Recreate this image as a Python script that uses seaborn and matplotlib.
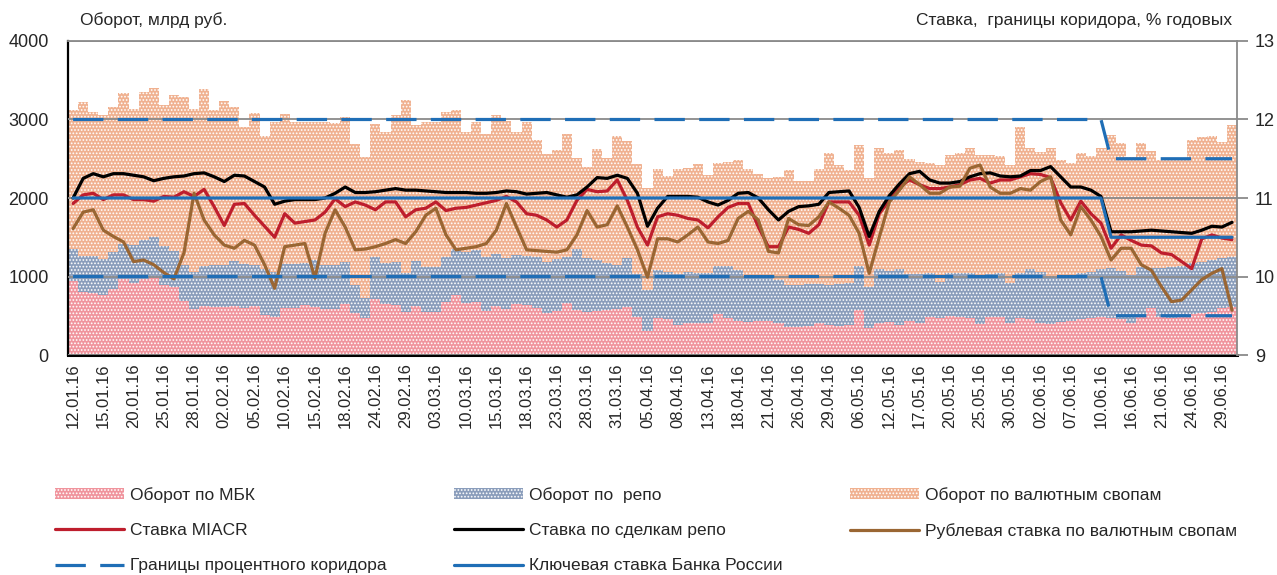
import numpy as np
import pandas as pd
import seaborn as sns
import matplotlib.pyplot as plt
from matplotlib.patches import Patch
from matplotlib.lines import Line2D

# рабочие дни 12.01.16 - 30.06.16 (праздники РФ, рабочая суббота 20.02)
holidays = ["2016-02-22", "2016-02-23", "2016-03-07", "2016-03-08",
            "2016-05-02", "2016-05-03", "2016-05-09", "2016-06-13"]
days = pd.bdate_range("2016-01-12", "2016-06-30", freq="C", holidays=holidays)
days = days.append(pd.DatetimeIndex(["2016-02-20"])).sort_values()
dates = [d.strftime("%d.%m.%y") for d in days]

# обороты, млрд руб.
mbk = [943, 807, 794, 764, 845, 972, 921, 964, 990, 892,
       862, 688, 586, 628, 611, 607, 624, 599, 624, 514,
       480, 603, 603, 637, 611, 582, 590, 654, 531, 467,
       709, 650, 637, 550, 620, 545, 552, 679, 764, 658,
       679, 565, 624, 582, 650, 637, 595, 531, 565, 658,
       573, 552, 565, 573, 582, 607, 488, 310, 475, 455,
       382, 403, 403, 412, 520, 467, 437, 425, 437, 433,
       412, 361, 361, 369, 403, 382, 375, 382, 573, 340,
       412, 425, 382, 437, 412, 480, 467, 501, 480, 467,
       395, 480, 488, 403, 467, 454, 412, 395, 425, 437,
       454, 467, 488, 467, 454, 412, 497, 595, 488, 467,
       488, 522, 531, 552, 595, 607]
repo = [403, 458, 467, 455, 471, 438, 480, 501, 509, 501,
        467, 459, 475, 506, 531, 535, 574, 556, 518, 577,
        581, 556, 556, 531, 595, 565, 552, 535, 361, 263,
        544, 518, 548, 490, 578, 575, 573, 574, 582, 658,
        659, 688, 663, 650, 624, 624, 658, 658, 654, 595,
        773, 680, 645, 595, 565, 633, 544, 518, 608, 605,
        648, 657, 647, 637, 614, 667, 646, 575, 558, 544,
        544, 531, 531, 541, 502, 513, 525, 531, 561, 530,
        679, 649, 709, 595, 620, 569, 467, 539, 569, 573,
        611, 552, 552, 510, 582, 637, 645, 611, 573, 578,
        586, 590, 603, 637, 620, 603, 628, 515, 622, 658,
        652, 646, 658, 658, 636, 637]
swaps = [1775, 1962, 1835, 1839, 1839, 1923, 1733, 1886, 1903, 1796,
         1983, 2136, 2077, 2251, 1979, 2094, 1966, 1754, 1937, 1703,
         1903, 1907, 1810, 1805, 1763, 1822, 1818, 1847, 1796, 1796,
         1685, 1673, 1873, 2209, 1732, 1852, 1847, 1847, 1775, 1529,
         1634, 1562, 1768, 1753, 1571, 1711, 1486, 1372, 1393, 1563,
         1160, 1163, 1410, 1342, 1639, 1486, 1397, 1295, 1282, 1220,
         1335, 1318, 1383, 1244, 1308, 1320, 1401, 1365, 1307, 1274,
         1316, 1465, 1325, 1311, 1460, 1674, 1525, 1444, 1541, 1381,
         1551, 1495, 1521, 1461, 1423, 1393, 1487, 1508, 1520, 1593,
         1542, 1512, 1500, 1508, 1860, 1542, 1533, 1627, 1486, 1427,
         1529, 1478, 1542, 1699, 1623, 1512, 1580, 1493, 1374, 1355,
         1353, 1571, 1584, 1580, 1487, 1686]

# ставки, % годовых
miacr = [10.93, 11.04, 11.06, 10.98, 11.04, 11.04, 10.98, 10.98, 10.96, 11.02,
         11.01, 11.08, 11.02, 11.11, 10.89, 10.65, 10.92, 10.93, 10.78, 10.64,
         10.50, 10.80, 10.68, 10.70, 10.72, 10.82, 10.99, 10.89, 10.95, 10.91,
         10.85, 10.95, 10.95, 10.76, 10.85, 10.87, 10.95, 10.84, 10.87, 10.88,
         10.91, 10.94, 10.97, 11.02, 10.95, 10.80, 10.78, 10.72, 10.63, 10.72,
         10.97, 11.11, 11.08, 11.09, 11.23, 10.97, 10.63, 10.40, 10.76, 10.80,
         10.78, 10.74, 10.72, 10.62, 10.76, 10.88, 10.93, 10.93, 10.63, 10.38,
         10.38, 10.63, 10.60, 10.55, 10.66, 10.95, 10.95, 10.95, 10.78, 10.40,
         10.80, 10.97, 11.14, 11.23, 11.17, 11.12, 11.12, 11.14, 11.17, 11.23,
         11.25, 11.19, 11.23, 11.23, 11.27, 11.31, 11.30, 11.26, 10.94, 10.72,
         10.96, 10.80, 10.68, 10.36, 10.53, 10.46, 10.40, 10.39, 10.30, 10.28,
         10.19, 10.10, 10.48, 10.53, 10.49, 10.47]
repo_rate = [11.00, 11.25, 11.31, 11.27, 11.31, 11.31, 11.29, 11.27, 11.22, 11.25,
             11.27, 11.28, 11.31, 11.32, 11.27, 11.21, 11.29, 11.28, 11.21, 11.14,
             10.92, 10.96, 10.98, 10.98, 10.98, 11.00, 11.06, 11.14, 11.07, 11.07,
             11.08, 11.10, 11.12, 11.10, 11.10, 11.09, 11.08, 11.07, 11.07, 11.07,
             11.06, 11.06, 11.07, 11.09, 11.08, 11.05, 11.06, 11.07, 11.04, 11.01,
             11.04, 11.14, 11.26, 11.25, 11.29, 11.25, 11.06, 10.64, 10.87, 11.02,
             11.02, 11.02, 11.01, 10.95, 10.91, 10.97, 11.06, 11.07, 11.00, 10.85,
             10.72, 10.83, 10.89, 10.90, 10.92, 11.07, 11.08, 11.09, 10.88, 10.51,
             10.83, 11.03, 11.18, 11.31, 11.34, 11.23, 11.19, 11.19, 11.21, 11.27,
             11.31, 11.32, 11.28, 11.27, 11.28, 11.35, 11.35, 11.40, 11.27, 11.14,
             11.14, 11.10, 11.02, 10.57, 10.57, 10.57, 10.58, 10.59, 10.58, 10.57,
             10.56, 10.55, 10.59, 10.64, 10.63, 10.69]
swap_rate = [10.61, 10.82, 10.85, 10.59, 10.51, 10.44, 10.19, 10.21, 10.15, 10.05,
             9.97, 10.30, 11.06, 10.72, 10.53, 10.40, 10.36, 10.46, 10.40, 10.15,
             9.85, 10.38, 10.40, 10.42, 9.98, 10.55, 10.85, 10.63, 10.34, 10.35,
             10.38, 10.42, 10.47, 10.42, 10.57, 10.78, 10.87, 10.53, 10.34, 10.36,
             10.38, 10.42, 10.59, 10.93, 10.63, 10.34, 10.33, 10.32, 10.31, 10.34,
             10.53, 10.84, 10.63, 10.66, 10.90, 10.63, 10.34, 9.99, 10.48, 10.48,
             10.44, 10.53, 10.63, 10.44, 10.42, 10.46, 10.74, 10.83, 10.72, 10.32,
             10.30, 10.74, 10.66, 10.65, 10.76, 10.95, 10.87, 10.78, 10.55, 10.04,
             10.50, 10.95, 11.10, 11.27, 11.17, 11.06, 11.06, 11.14, 11.15, 11.38,
             11.42, 11.14, 11.06, 11.06, 11.12, 11.10, 11.21, 11.27, 10.72, 10.53,
             10.89, 10.72, 10.51, 10.21, 10.36, 10.36, 10.15, 10.08, 9.87, 9.68,
             9.70, 9.83, 9.96, 10.04, 10.10, 9.57]
key_rate = [11.0] * 103 + [10.5] * 13
corridor_up = [12.0] * 103 + [11.5] * 13
corridor_lo = [10.0] * 103 + [9.5] * 13

n = len(dates)
x = np.arange(n)

c_mbk, c_repo, c_swap = "#F0949D", "#8A9DBB", "#F0B190"
c_red, c_brown, c_blue = "#BE1E2D", "#9A6633", "#1F6EB6"
tex = "....."

sns.set_style("white")
plt.rcParams["font.family"] = ["Liberation Sans", "DejaVu Sans"]
plt.rcParams["hatch.linewidth"] = 0.8

fig = plt.figure(figsize=(12.77, 5.75), dpi=100)
ax = fig.add_axes([0.0533, 0.3826, 0.9154, 0.5461])

# столбцы с накоплением: сначала сумма, сверху нижние слои
lvl1 = np.array(mbk)
lvl2 = lvl1 + np.array(repo)
lvl3 = lvl2 + np.array(swaps)
for vals, col in [(lvl3, c_swap), (lvl2, c_repo), (lvl1, c_mbk)]:
    sns.barplot(x=dates, y=vals, color=col, width=1.0, linewidth=0,
                saturation=1, errorbar=None, ax=ax)
for p in ax.patches:
    p.set_hatch(tex)
    p.set_edgecolor("white")
    p.set_linewidth(0)

ax.set_ylim(0, 4000)
ax.set_yticks([0, 1000, 2000, 3000, 4000])
ax.set_axisbelow(False)
ax.yaxis.grid(True, color="#8a8a8a", linewidth=1.3)
ax.set_xticks(x[::3])
ax.set_xticklabels(dates[::3], rotation=90)
ax.tick_params(axis="x", length=0, pad=6, labelsize=12)
ax.tick_params(axis="y", length=0, pad=14, labelsize=13)
ax.set_xlabel("")
ax.set_ylabel("")
ax.spines["top"].set_color("#8a8a8a")
ax.spines["top"].set_linewidth(1.3)
ax.spines["left"].set_color("black")
ax.spines["left"].set_linewidth(1.6)
ax.spines["bottom"].set_color("black")
ax.spines["bottom"].set_linewidth(2.2)
ax.spines["right"].set_visible(False)

ax2 = ax.twinx()
lw = 2.3
sns.lineplot(x=x, y=miacr, color=c_red, linewidth=lw, ax=ax2)
sns.lineplot(x=x, y=repo_rate, color="black", linewidth=lw, ax=ax2)
sns.lineplot(x=x, y=swap_rate, color=c_brown, linewidth=lw, ax=ax2)
for vals in (corridor_up, corridor_lo):
    sns.lineplot(x=x, y=vals, color=c_blue, linewidth=lw, ax=ax2)
    ax2.get_lines()[-1].set_dashes([9.5, 4.5])
sns.lineplot(x=x, y=key_rate, color=c_blue, linewidth=lw, ax=ax2)

ax2.set_ylim(9, 13)
ax2.set_yticks([9, 10, 11, 12, 13])
ax2.set_xlim(-0.5, n - 0.5)
ax.set_xlim(-0.5, n - 0.5)
ax2.tick_params(axis="y", length=8, width=1.3, color="#8a8a8a", pad=5, labelsize=13)
ax2.set_ylabel("")
for s in ("top", "left", "bottom"):
    ax2.spines[s].set_visible(False)
ax2.spines["right"].set_color("#8a8a8a")
ax2.spines["right"].set_linewidth(1.3)

fig.text(80 / 1277, 1 - 20 / 575, "Оборот, млрд руб.", fontsize=12.5,
         ha="left", va="center")
fig.text(1232 / 1277, 1 - 20 / 575, "Ставка,  границы коридора, % годовых",
         fontsize=12.5, ha="right", va="center")

handles = [
    Patch(facecolor=c_mbk, edgecolor="white", linewidth=0, hatch=tex,
          label="Оборот по МБК"),
    Line2D([], [], color=c_red, lw=lw, label="Ставка MIACR"),
    Line2D([], [], color=c_blue, lw=lw, dashes=[9.5, 4.5],
           label="Границы процентного коридора"),
    Patch(facecolor=c_repo, edgecolor="white", linewidth=0, hatch=tex,
          label="Оборот по  репо"),
    Line2D([], [], color="black", lw=lw, label="Ставка по сделкам репо"),
    Line2D([], [], color=c_blue, lw=lw, label="Ключевая ставка Банка России"),
    Patch(facecolor=c_swap, edgecolor="white", linewidth=0, hatch=tex,
          label="Оборот по валютным свопам"),
    Line2D([], [], color=c_brown, lw=lw,
           label="Рублевая ставка по валютным свопам"),
]
fig.legend(handles=handles, ncol=3, loc="upper left",
           bbox_to_anchor=(55 / 1277, 1 - 487 / 575), frameon=False,
           fontsize=12.5, handlelength=4.0, handleheight=0.6,
           handletextpad=0.3, columnspacing=3.9, labelspacing=1.17,
           borderpad=0, borderaxespad=0)

fig.savefig("out.png", dpi=100)
